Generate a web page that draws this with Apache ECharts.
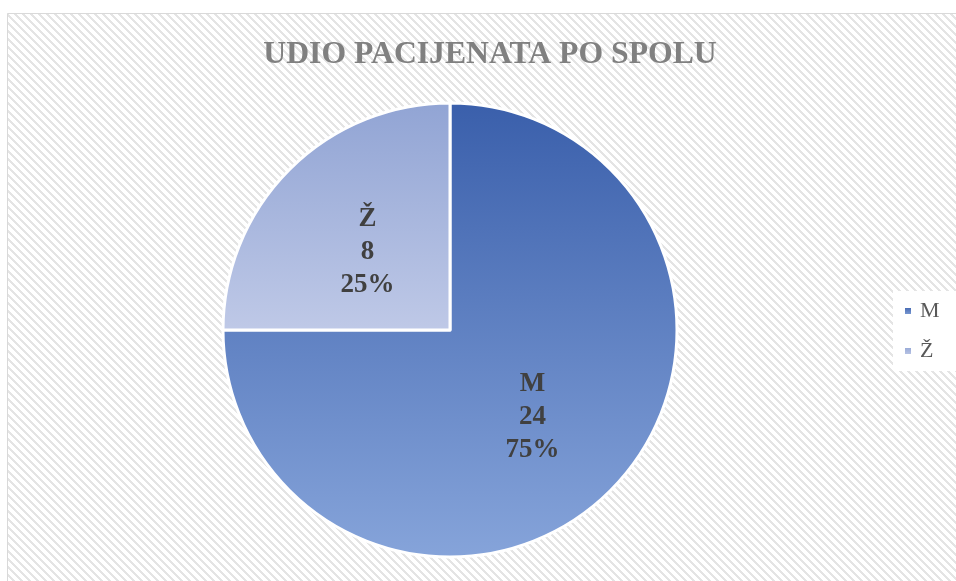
<!DOCTYPE html>
<html>
<head>
<meta charset="utf-8">
<title>Udio pacijenata po spolu</title>
<script src="https://cdn.jsdelivr.net/npm/echarts@6/dist/echarts.min.js"></script>
<style>
	html, body { margin: 0; padding: 0; background: #fff; }
	#pieChart { width: 956px; height: 581px; }
</style>
</head>
<body>
<div id="pieChart"></div>
<script>
var chartTitle = 'UDIO PACIJENATA PO SPOLU';
var categories = ['M', 'Ž'];
var counts = [24, 8];
var sliceColors = [
	['#3a5fab', '#86a4da'], // M: top -> bottom
	['#91a4d4', '#bfc9e7']  // Ž
];
var serif = '"Liberation Serif", "Times New Roman", serif';

// uzorak pozadine - dijagonalne crte
function stripePattern() {
	var c = document.createElement('canvas');
	c.width = 8;
	c.height = 8;
	var ctx = c.getContext('2d');
	ctx.fillStyle = '#ffffff';
	ctx.fillRect(0, 0, 8, 8);
	ctx.fillStyle = '#e4e4e4';
	for (var y = 0; y < 8; y++) {
		for (var x = 0; x < 8; x++) {
			if (((x - y) % 8 + 8) % 8 < 3) {
				ctx.fillRect(x, y, 1, 1);
			}
		}
	}
	return c;
}

window.onload = function() {
	chartPanel.init();
};

var chartPanel = {
	init : function() {
		var chart = echarts.init(document.getElementById('pieChart'));
		var data = categories.map(function(name, i) {
			return {
				name: name,
				value: counts[i],
				itemStyle: {
					color: new echarts.graphic.LinearGradient(0, 0, 0, 1, [
						{ offset: 0, color: sliceColors[i][0] },
						{ offset: 1, color: sliceColors[i][1] }
					])
				}
			};
		});
		var option = {
			animation: false,
			backgroundColor: '#fff',
			graphic: [{
				type: 'rect',
				z: -10,
				shape: { x: 7.5, y: 13.5, width: 980, height: 600 },
				style: {
					fill: { image: stripePattern(), repeat: 'repeat' },
					stroke: '#d9d9d9',
					lineWidth: 1
				}
			}],
			title: {
				text: chartTitle,
				left: 485,
				textAlign: 'center',
				top: 34,
				textStyle: {
					fontFamily: serif,
					fontSize: 31.7,
					fontWeight: 'bold',
					color: '#808080'
				}
			},
			legend: {
				orient: 'vertical',
				left: 893,
				top: 291,
				data: categories,
				icon: 'rect',
				itemWidth: 8,
				itemHeight: 8,
				itemGap: 18,
				padding: [9, 20, 9, 10],
				backgroundColor: '#ffffff',
				textStyle: {
					fontFamily: serif,
					fontSize: 22,
					color: '#595959',
					padding: [0, 0, 0, 3]
				}
			},
			series: [{
				type: 'pie',
				center: [450, 330],
				radius: 227,
				startAngle: 90,
				clockwise: true,
				data: data,
				itemStyle: {
					borderColor: '#ffffff',
					borderWidth: 3
				},
				label: {
					show: true,
					position: 'inside',
					// prazan gornji red malo spusti natpis
					formatter: '{s|}\n{b}\n{c}\n{d}%',
					fontFamily: serif,
					fontSize: 27,
					fontWeight: 'bold',
					lineHeight: 33,
					color: '#404040',
					rich: {
						s: { lineHeight: 9, fontSize: 1 }
					}
				},
				labelLine: { show: false },
				emphasis: { disabled: true }
			}]
		};
		chart.setOption(option);
	}
};
</script>
</body>
</html>
